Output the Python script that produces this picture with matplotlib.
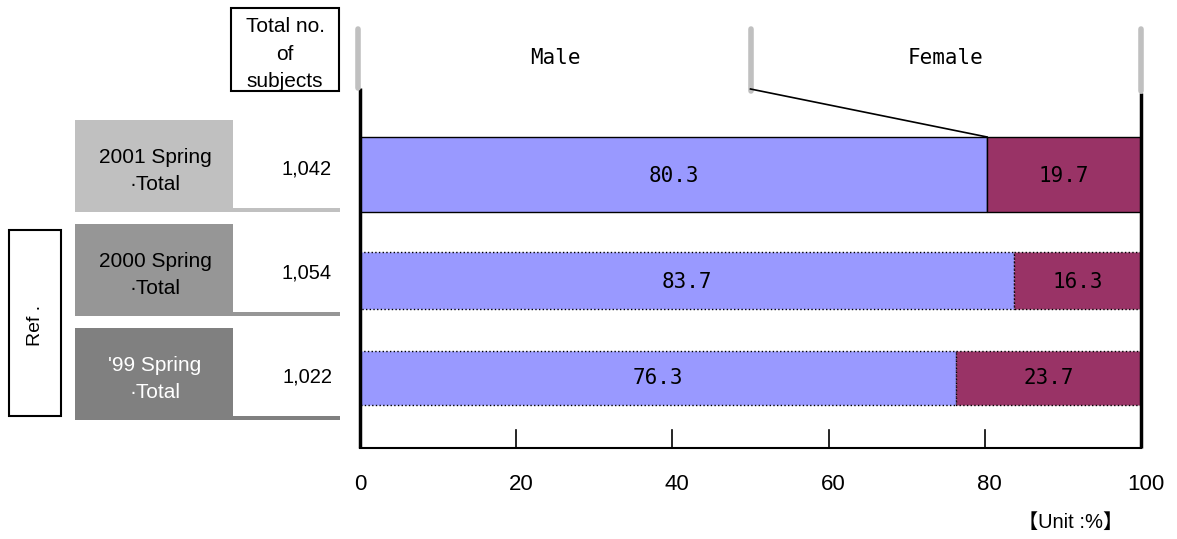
import matplotlib
matplotlib.use("Agg")
import matplotlib.pyplot as plt
from matplotlib.patches import Rectangle

# survey periods, number of subjects and gender split (%)
periods = ["2001 Spring\n·Total", "2000 Spring\n·Total", "'99 Spring\n·Total"]
totals = ["1,042", "1,054", "1,022"]
male = [80.3, 83.7, 76.3]
female = [19.7, 16.3, 23.7]
ticks = [0, 20, 40, 60, 80, 100]

W, H = 1177, 539
fig = plt.figure(figsize=(W / 100, H / 100), dpi=100)

# background axes in pixel units for the table part on the left
bg = fig.add_axes([0, 0, 1, 1])
bg.set_xlim(0, W)
bg.set_ylim(H, 0)
bg.axis("off")

# bar axes: x in percent, y in pixels
ax = fig.add_axes([360 / W, 0, 781 / W, 1])
ax.set_xlim(0, 100)
ax.set_ylim(H, 0)
ax.axis("off")

sans = "Liberation Sans"
mono = "DejaVu Sans Mono"

# row layout
row_top = [120, 224, 328]
row_h = 92
bar_y = [174.5, 280.5, 377.5]
bar_h = [75, 57, 54]
box_colors = ["#C0C0C0", "#969696", "#808080"]
text_colors = ["black", "black", "white"]

for i in range(3):
    top = row_top[i]
    bg.add_patch(Rectangle((75, top), 158, row_h, facecolor=box_colors[i], edgecolor="none"))
    bg.add_patch(Rectangle((233, top + row_h - 4), 107, 4, facecolor=box_colors[i], edgecolor="none"))
    bg.text(155, top + 51, periods[i], ha="center", va="center",
            fontsize=15, family=sans, color=text_colors[i], linespacing=1.5)
    bg.text(332, top + row_h / 2 + 3, totals[i], ha="right", va="center",
            fontsize=14.5, family=sans)

# header box
bg.add_patch(Rectangle((231, 8), 108, 83, facecolor="white", edgecolor="black", linewidth=1.5))
bg.text(285, 54, "Total no.\nof\nsubjects", ha="center", va="center",
        fontsize=15, family=sans, linespacing=1.55)

# "Ref." box
bg.add_patch(Rectangle((9, 230), 52, 186, facecolor="white", edgecolor="black", linewidth=1.5))
bg.text(35, 325, "Ref .", rotation=90, ha="center", va="center", fontsize=14, family=sans)

# stacked bars
for i in range(3):
    ls = "-" if i == 0 else ":"
    ax.barh(bar_y[i], male[i], height=bar_h[i], color="#9999FF",
            edgecolor="black", linewidth=1.0, linestyle=ls)
    ax.barh(bar_y[i], female[i], left=male[i], height=bar_h[i], color="#993366",
            edgecolor="black", linewidth=1.0, linestyle=ls)
    ax.text(male[i] / 2, bar_y[i] + 1, f"{male[i]:.1f}", ha="center", va="center",
            fontsize=15, family=mono)
    ax.text(male[i] + female[i] / 2, bar_y[i] + 1, f"{female[i]:.1f}", ha="center",
            va="center", fontsize=15, family=mono)

# frame lines and ticks
ax.plot([0, 0], [88, 448], color="black", lw=2.5, solid_capstyle="butt", clip_on=False)
ax.plot([100, 100], [93, 448], color="black", lw=2.5, solid_capstyle="butt", clip_on=False)
ax.plot([0, 100], [448, 448], color="black", lw=1.5, clip_on=False)
for t in ticks[1:-1]:
    ax.plot([t, t], [430, 448], color="black", lw=1.2)
for t in ticks:
    ax.text(t + (0.6 if t else 0), 485, str(t), ha="center", va="center", fontsize=16, family=sans)

# legend markers above the bars
for x, y1 in [(-0.25, 88), (50, 91), (100, 91)]:
    ax.plot([x, x], [29, y1], color="#C0C0C0", lw=4, solid_capstyle="round", clip_on=False)
ax.plot([50, male[0]], [89, 137], color="black", lw=1.2)
ax.text(25, 58, "Male", ha="center", va="center", fontsize=15, family=mono)
ax.text(75, 58, "Female", ha="center", va="center", fontsize=15, family=mono)

bg.text(1071, 522, "【Unit :%】", ha="center", va="center", fontsize=14.5,
        family=[sans, "Noto Sans CJK JP"])

fig.savefig("out.png", dpi=100)
